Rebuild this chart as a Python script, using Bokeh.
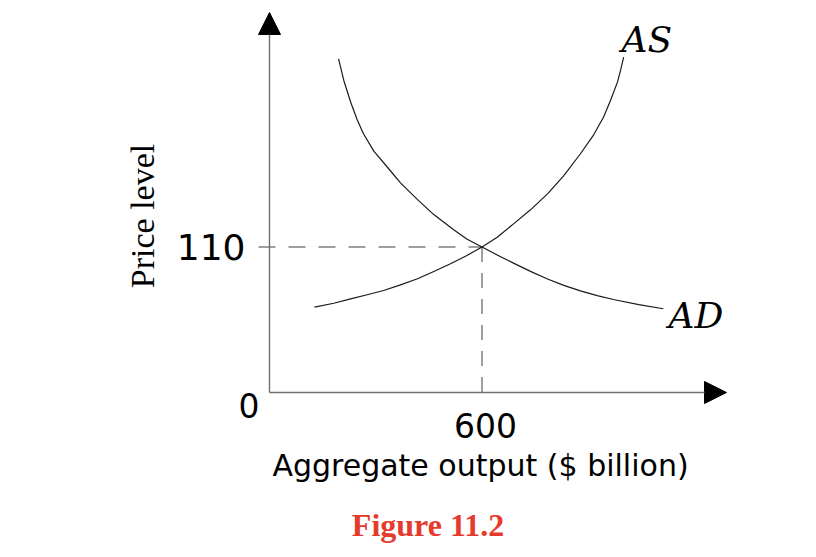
import math
from bokeh.plotting import figure
from bokeh.models import Arrow, NormalHead, Label, Range1d
from bokeh.core.properties import value
from bokeh.embed import file_html
from bokeh.resources import INLINE

# ---- data ----
as_x = [127, 181.6, 229, 275.8, 322, 369.9, 418, 463.9, 511, 553.4, 600,
        643, 689, 737, 785, 831, 878, 915.7, 943, 962.8, 983, 991, 1000]
as_y = [64.5, 67.5, 70.8, 73.9, 77.1, 81.4, 86.0, 91.5, 97.3, 103.0, 110,
        117.4, 127.5, 138.1, 150.2, 164.0, 180.5, 195.0, 208.1, 220.8, 235.0, 243.4, 253.5]
ad_x = [195, 209.8, 229, 247.6, 265, 294.5, 333, 369.9, 418, 463.9, 520, 558.2, 600,
        642.9, 689, 736.9, 785, 831, 878, 925.3, 971, 1042.7, 1112]
ad_y = [252.3, 235.9, 219.6, 206.2, 195.8, 182.5, 170.3, 158.5, 145.8, 134.5, 123.0, 115.8, 110,
        104.0, 97.8, 91.6, 85.8, 81.0, 76.8, 73.2, 70.3, 66.5, 63.3]
eq_output = 600
eq_price = 110
x_tick_labels = ["600"]
y_tick_labels = ["110"]
origin_label = "0"
x_title = "Aggregate output ($ billion)"
y_title = "Price level"
caption = "Figure 11.2"

# ---- pixel <-> data mapping (layout) ----
OX, OY = 269.0, 392.0           # image pixel of the origin
SX = 600 / (481.5 - OX)         # data units per pixel, x
SY = 110 / (OY - 246.5)         # data units per pixel, y
def X(px):
    return (px - OX) * SX
def Y(py):
    return (OY - py) * SY

W, H = 808, 549
p = figure(width=W, height=H, output_backend="svg", toolbar_location=None,
           x_range=Range1d(X(0), X(W)), y_range=Range1d(Y(H), Y(0)),
           min_border=0, min_border_left=0, min_border_right=0,
           min_border_top=0, min_border_bottom=0)
p.axis.visible = False
p.grid.visible = False
p.outline_line_color = None
p.background_fill_color = "white"
p.border_fill_color = "white"

axis_col = "#6f6f6f"
# axes with arrow heads
p.add_layout(Arrow(x_start=0, y_start=0, x_end=0, y_end=Y(12),
                   line_color=axis_col, line_width=1.4,
                   end=NormalHead(size=22, fill_color="black", line_color="black", line_width=1)))
p.add_layout(Arrow(x_start=0, y_start=0, x_end=X(726), y_end=0,
                   line_color=axis_col, line_width=1.4,
                   end=NormalHead(size=22, fill_color="black", line_color="black", line_width=1)))

# dashed guides
p.line([X(258), eq_output], [eq_price, eq_price], line_color="#808080",
       line_width=1.5, line_dash="17 13")
p.line([eq_output, eq_output], [eq_price, Y(402)], line_color="#808080",
       line_width=1.5, line_dash="15 11")

# curves
p.line(as_x, as_y, line_color="#1a1a1a", line_width=1.2, line_join="round")
p.line(ad_x, ad_y, line_color="#1a1a1a", line_width=1.2, line_join="round")

# curve labels
p.add_layout(Label(x=X(621), y=Y(39), text="AS", text_font="DejaVu Serif",
                   text_font_style="italic", text_font_size="36px",
                   text_align="left", text_baseline="middle", text_color="black"))
p.add_layout(Label(x=X(668), y=Y(315), text="AD", text_font="DejaVu Serif",
                   text_font_style="italic", text_font_size="36px",
                   text_align="left", text_baseline="middle", text_color="black"))

# tick labels
p.text(x=[X(245)] * len(y_tick_labels), y=[eq_price], text=y_tick_labels,
       text_font=value("DejaVu Sans"), text_font_size="36px",
       text_align="right", text_baseline="middle", text_color="black")
p.text(x=[X(485)] * len(x_tick_labels), y=[Y(425)], text=x_tick_labels,
       text_font=value("DejaVu Sans"), text_font_size="33px",
       text_align="center", text_baseline="middle", text_color="black")
p.add_layout(Label(x=X(248.5), y=Y(405), text=origin_label, text_font="DejaVu Sans",
                   text_font_size="33px", text_align="center",
                   text_baseline="middle", text_color="black"))

# axis titles
p.add_layout(Label(x=X(480), y=Y(465), text=x_title, text_font="DejaVu Sans",
                   text_font_size="30px", text_align="center",
                   text_baseline="middle", text_color="black"))
p.add_layout(Label(x=X(141.5), y=Y(215.5), text=y_title, text_font="Liberation Serif",
                   text_font_size="34px", text_align="center", angle=math.pi / 2,
                   text_baseline="middle", text_color="black"))

# caption
p.add_layout(Label(x=X(427.5), y=Y(524), text=caption, text_font="Liberation Serif",
                   text_font_style="bold", text_font_size="32px", text_align="center",
                   text_baseline="middle", text_color="#e53b2c"))

open("out.html", "w").write(file_html(p, INLINE))
